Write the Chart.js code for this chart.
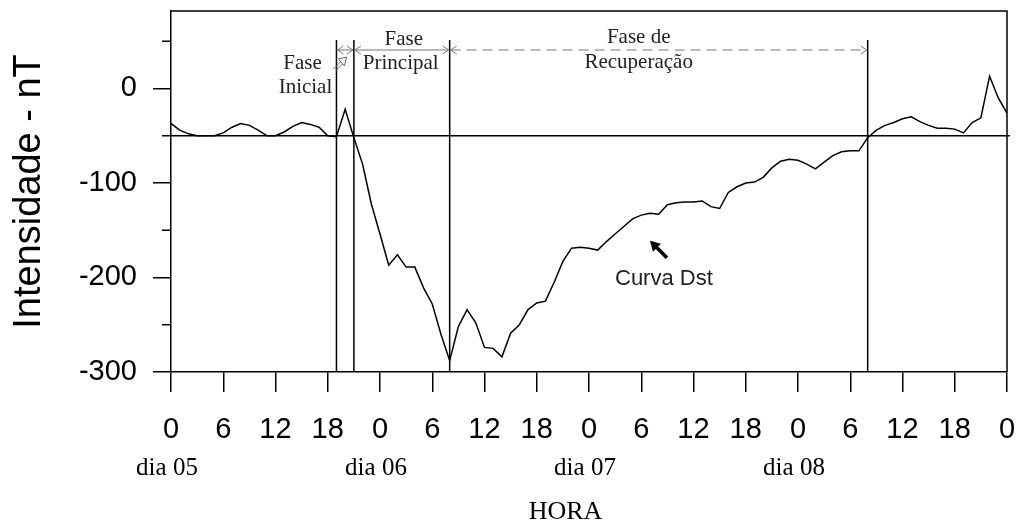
<!DOCTYPE html>
<html>
<head>
<meta charset="utf-8">
<style>
  html, body { margin: 0; padding: 0; background: #fff; }
</style>
</head>
<body>
<canvas id="dstChart" width="1022" height="522"></canvas>

<script src="https://cdn.jsdelivr.net/npm/chart.js"></script>
<script>
// hourly Dst (nT), from dia 05 00h to dia 09 00h
let dst = [
  -37, -44, -48, -50, -50, -50, -47, -41, -37, -39, -44, -50,
  -50, -46, -40, -36, -38, -41, -50, -51, -22, -52, -80, -122,
  -154, -187, -176, -189, -189, -211, -228, -260, -288, -252, -234, -248,
  -274, -275, -284, -259, -250, -234, -227, -225, -205, -183, -169, -168,
  -169, -171, -162, -154, -146, -138, -134, -132, -133, -123, -121, -120,
  -120, -119, -125, -127, -110, -104, -100, -99, -94, -84, -77, -75,
  -76, -80, -85, -78, -71, -67, -66, -66, -52, -44, -39, -36,
  -32, -30, -35, -39, -42, -42, -43, -47, -36, -31, 13, -10,
  -26
];
let dayLabels = ['dia 05', 'dia 06', 'dia 07', 'dia 08'];
let dayStarts = [0, 24, 48, 72];
let phaseBounds = [19, 21, 32, 80];   // hours where the phases change
let quietLevel = -50;
let minorTicks = [-250, -150, -50, 50];

const SANS = "'Liberation Sans', Arial, sans-serif";
const SERIF = "'Liberation Serif', 'Times New Roman', serif";

function arrowHead(ctx, x, y, dir) {
  // open chevron, dir = -1 points left, +1 points right
  ctx.moveTo(x - dir * 6, y - 4);
  ctx.lineTo(x, y);
  ctx.lineTo(x - dir * 6, y + 4);
}

const overlay = {
  id: 'overlay',
  afterDraw(chart) {
    const {ctx, chartArea: a, scales: {x, y}} = chart;
    ctx.save();

    // frame top + right, minor ticks, quiet level, phase lines
    ctx.strokeStyle = '#000';
    ctx.lineWidth = 1.5;
    ctx.beginPath();
    ctx.moveTo(a.left, a.top);
    ctx.lineTo(a.right, a.top);
    ctx.lineTo(a.right, a.bottom);
    minorTicks.forEach(v => {
      const py = y.getPixelForValue(v);
      ctx.moveTo(a.left - 9, py);
      ctx.lineTo(a.left, py);
    });
    const qy = y.getPixelForValue(quietLevel);
    ctx.moveTo(a.left, qy);
    ctx.lineTo(a.right + 3, qy);
    phaseBounds.forEach(h => {
      const px = x.getPixelForValue(h);
      ctx.moveTo(px, a.top + 29);
      ctx.lineTo(px, a.bottom);
    });
    ctx.stroke();

    // phase span arrows
    const ay = a.top + 39;
    ctx.strokeStyle = '#777';
    ctx.lineWidth = 1;
    for (let i = 0; i < phaseBounds.length - 1; i++) {
      const x0 = x.getPixelForValue(phaseBounds[i]) + 1;
      const x1 = x.getPixelForValue(phaseBounds[i + 1]) - 1;
      ctx.setLineDash(i === 2 ? [10, 6] : []);
      ctx.beginPath();
      ctx.moveTo(x0, ay);
      ctx.lineTo(x1, ay);
      ctx.stroke();
      ctx.setLineDash([]);
      ctx.beginPath();
      arrowHead(ctx, x0, ay, -1);
      arrowHead(ctx, x1, ay, 1);
      ctx.stroke();
    }

    // little hollow pointer beside "Fase Inicial"
    const p0 = x.getPixelForValue(phaseBounds[0]);
    ctx.strokeStyle = '#666';
    ctx.beginPath();
    ctx.moveTo(p0 - 3, a.top + 58);
    ctx.lineTo(p0 + 4, a.top + 51);
    ctx.moveTo(p0 - 1, a.top + 60);
    ctx.lineTo(p0 + 6, a.top + 53);
    ctx.moveTo(p0 + 2, a.top + 48);
    ctx.lineTo(p0 + 10, a.top + 46);
    ctx.lineTo(p0 + 8, a.top + 55);
    ctx.closePath();
    ctx.stroke();

    // phase names
    ctx.fillStyle = '#222';
    ctx.font = '21px ' + SERIF;
    ctx.textAlign = 'center';
    ctx.textBaseline = 'middle';
    ctx.fillText('Fase', p0 - 34, a.top + 52);
    ctx.fillText('Inicial', p0 - 31, a.top + 76);
    const pm = (x.getPixelForValue(phaseBounds[1]) + x.getPixelForValue(phaseBounds[2])) / 2;
    ctx.fillText('Fase', pm + 2, a.top + 28);
    ctx.fillText('Principal', pm - 1, a.top + 52);
    const rm = (x.getPixelForValue(phaseBounds[2]) + x.getPixelForValue(phaseBounds[3])) / 2;
    ctx.fillText('Fase de', rm - 20, a.top + 26);
    ctx.fillText('Recuperação', rm - 20, a.top + 51);

    // "Curva Dst" label with its arrow
    const tx = x.getPixelForValue(55), ty = y.getPixelForValue(-161);
    ctx.fillStyle = '#000';
    ctx.beginPath();
    ctx.moveTo(tx, ty);
    ctx.lineTo(tx + 3, ty + 11);
    ctx.lineTo(tx + 11, ty + 3);
    ctx.closePath();
    ctx.fill();
    ctx.strokeStyle = '#000';
    ctx.lineWidth = 3.5;
    ctx.beginPath();
    ctx.moveTo(tx + 6, ty + 6);
    ctx.lineTo(tx + 17, ty + 17);
    ctx.stroke();
    ctx.fillStyle = '#222';
    ctx.font = '22px ' + SANS;
    ctx.fillText('Curva Dst', x.getPixelForValue(56.6), y.getPixelForValue(-201));

    // day names and axis name
    ctx.fillStyle = '#000';
    ctx.font = '25px ' + SERIF;
    dayLabels.forEach((t, i) => {
      ctx.fillText(t, x.getPixelForValue(dayStarts[i]) - 4, a.bottom + 96);
    });
    ctx.font = '26px ' + SERIF;
    ctx.fillText('HORA', x.getPixelForValue(45.3), a.bottom + 140);

    ctx.restore();
  }
};

new Chart(document.getElementById('dstChart').getContext('2d'), {
  type: 'line',
  data: {
    datasets: [{
      data: dst.map((v, i) => ({x: i, y: v})),
      borderColor: '#000',
      borderWidth: 1.5,
      pointRadius: 0,
      tension: 0,
      fill: false
    }]
  },
  options: {
    responsive: false,
    animation: false,
    devicePixelRatio: 1,
    layout: { padding: { top: 11, right: 15, left: 0, bottom: 0 } },
    plugins: { legend: { display: false }, tooltip: { enabled: false } },
    scales: {
      x: {
        type: 'linear',
        min: 0,
        max: 96,
        afterFit: s => { s.height = 150; s.paddingLeft = 0; s.paddingRight = 0; },
        ticks: {
          stepSize: 6,
          autoSkip: false,
          maxRotation: 0,
          padding: 21,
          color: '#000',
          font: { family: SANS, size: 29 },
          callback: v => v % 24
        },
        grid: { drawOnChartArea: false, tickLength: 20, color: '#000', lineWidth: 1.5 },
        border: { display: true, color: '#000', width: 1.5 }
      },
      y: {
        min: -300,
        max: 82,
        afterFit: s => { s.width = 171; s.paddingTop = 0; s.paddingBottom = 0; },
        ticks: {
          stepSize: 100,
          includeBounds: false,
          padding: 16,
          color: '#000',
          font: { family: SANS, size: 29 }
        },
        grid: { drawOnChartArea: false, tickLength: 18, color: '#000', lineWidth: 1.5 },
        border: { display: true, color: '#000', width: 1.5 },
        title: {
          display: true,
          text: 'Intensidade - nT',
          color: '#000',
          font: { family: SANS, size: 38 },
          padding: { top: 7, bottom: 0 }
        }
      }
    }
  },
  plugins: [overlay]
});
</script>
</body>
</html>
